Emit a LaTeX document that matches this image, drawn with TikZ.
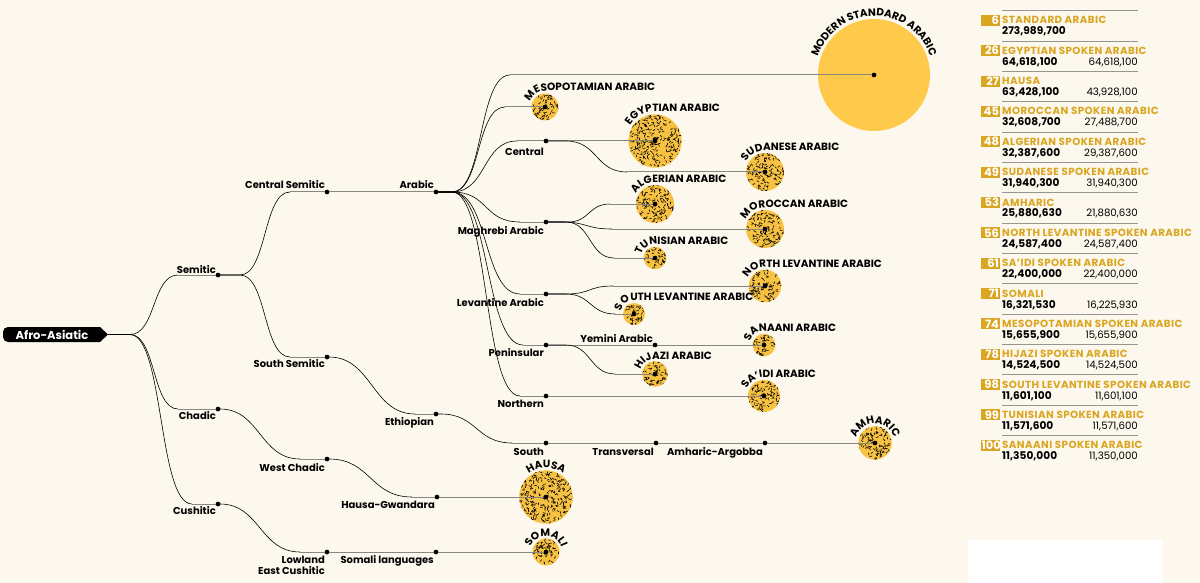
\documentclass[tikz,border=0pt]{standalone}
\usepackage{fontspec}
\setmainfont{Poppins}
\newfontfamily\legtitlefam[LetterSpace=4]{Poppins}
\usetikzlibrary{decorations.text,calc}
\definecolor{bg}{RGB}{253,248,237}
\definecolor{gold}{RGB}{255,201,76}
\definecolor{goldt}{RGB}{247,193,66}
\definecolor{legold}{RGB}{218,165,32}
\definecolor{linegray}{RGB}{135,135,128}
\definecolor{sepgray}{RGB}{150,150,145}
\newcommand\lblfont{\fontsize{10}{12}\selectfont\bfseries}
\newcommand\circfont{\fontsize{10.5}{11}\selectfont\bfseries}
\tikzset{
  dot/.style={circle,fill=black,inner sep=0pt,minimum size=4.5pt},
  lab/.style={font=\lblfont,inner sep=0pt,anchor=base east},
  curve/.style={line width=0.6pt,black},
  hline/.style={line width=1pt,linegray},
  speck/.style={line width=0.6pt,black,line cap=round},
  sepline/.style={line width=0.9pt,sepgray},
  rankbox/.style={fill=legold,text=white,font=\fontsize{11.5}{11}\selectfont\bfseries,minimum height=11pt,inner ysep=0pt,inner xsep=0.8pt,text width=17.4pt,align=right,anchor=east},
  legtitle/.style={text=legold,font=\legtitlefam\fontsize{10.3}{10}\selectfont\bfseries,inner sep=0pt,anchor=base west},
  legnum/.style={font=\fontsize{10.6}{10}\selectfont\bfseries,inner sep=0pt,anchor=base west},
  legnumb/.style={font=\fontsize{10.2}{10}\selectfont,inner sep=0pt,anchor=base east},
}
% textured leaf circle: name, x, y, radius
\newcommand\leafc[4]{%
  \fill[goldt] (#2,#3) circle (#4);
  \begin{scope}
    \clip (#2,#3) circle (#4);
    \pgfmathtruncatemacro\nsp{0.34*#4*#4}
    \foreach \k in {1,...,\nsp}{%
      \pgfmathsetmacro\aa{360*rnd}%
      \pgfmathsetmacro\rr{(#4)*sqrt(rnd)}%
      \pgfmathsetmacro\bb{360*rnd}%
      \draw[speck,shift={(#2,#3)}] (\aa:\rr) -- ++(\bb:2.2);
    }
  \end{scope}
  \node[dot] (#1) at (#2,#3) {};
}
% curved branch: parent, child, out length, end distance before child, control length
\newcommand\brc[5]{%
  \draw[curve] (#1.center) -- ++(#3,0) .. controls +(#5,0) and +(-#5,0) .. ($(#2.center)+(-#4,0)$);
  \draw[hline] ($(#2.center)+(-#4,0)$) -- (#2.center);
}
% arc label starting on the left, then straight: centre node, baseline radius, start angle, text
\newcommand\arclab[4]{%
  \begingroup\circfont
  \pgfmathsetmacro\ind{#2*(200-#3)*pi/180}%
  \path[decorate,decoration={text along path,text={#4},text align={left indent=\ind pt}}]
    ($(#1.center)+(200:#2)$) arc[start angle=200,end angle=90,radius=#2] -- ++(220,0);
  \endgroup
}
% centred arc label
\newcommand\arclabc[3]{%
  \begingroup\circfont
  \path[decorate,decoration={text along path,text={#3},text align=center}]
    ($(#1.center)+(200:#2)$) arc[start angle=200,end angle=-20,radius=#2];
  \endgroup
}
\newcommand\legrow[5]{%
  \pgfmathsetmacro\ly{-(20.3+30.36*#1)}
  \draw[sepline] (1002,\ly+9.7) -- (1138,\ly+9.7);
  \node[rankbox] (rk#1) at (1000,\ly) {#2};
  \node[legtitle] (lt#1) at (1002,\ly-3.6) {#3};
  \node[legnum] (ln#1) at (1002,\ly-14.5) {#4};
  \node[legnumb] (lm#1) at (1138,\ly-14.5) {#5};
}
\begin{document}
\begin{tikzpicture}[x=1pt,y=1pt]
\useasboundingbox (0,0) rectangle (1200,-583);
\fill[bg] (0,0) rectangle (1200,-583);
\fill[white] (968,-540) rectangle (1163,-583);
\pgfmathsetseed{11}

% ---------- leaf circles ----------
\fill[gold] (874,-75) circle (56);
\node[dot] (msa) at (874,-75) {};
\leafc{meso}{545}{-107}{13.5}
\leafc{egypt}{655}{-141}{26.7}
\leafc{sudan}{765}{-172}{19}
\leafc{alger}{655}{-204}{19}
\leafc{moroc}{765}{-229}{19}
\leafc{tunis}{655}{-258}{11.3}
\leafc{nlev}{765}{-286}{16.3}
\leafc{slev}{634}{-314}{11}
\leafc{sanaani}{764}{-345}{11.3}
\leafc{hijazi}{655}{-374}{12.8}
\leafc{saidi}{764}{-396}{16}
\leafc{amharic}{875}{-443}{16.7}
\leafc{hausa}{546}{-497}{26.7}
\leafc{somali}{546}{-552}{13.5}

% ---------- inner nodes ----------
\fill (100,-327) -- (8,-327) arc[start angle=90,end angle=180,radius=5] -- (3,-337)
      arc[start angle=180,end angle=270,radius=5] -- (100,-342) -- (108,-334.5) -- cycle;
\node[text=white,font=\fontsize{11.5}{12}\selectfont\bfseries,inner sep=0pt] (afro) at (52,-334.5) {Afro-Asiatic};
\coordinate (afroend) at (108,-334.5);
\node[dot] (semitic) at (218,-275) {};
\node[dot] (centralsem) at (327,-192) {};
\node[dot] (southsem) at (327,-357) {};
\node[dot] (chadic) at (218,-409) {};
\node[dot] (westchadic) at (327,-459) {};
\node[dot] (cushitic) at (218,-504) {};
\node[dot] (lowland) at (327,-552) {};
\node[dot] (arabic) at (436,-192) {};
\node[dot] (central) at (546,-141) {};
\node[dot] (maghrebi) at (546,-222) {};
\node[dot] (levantine) at (546,-294) {};
\node[dot] (peninsular) at (546,-345) {};
\node[dot] (northern) at (546,-396) {};
\node[dot] (yemini) at (655,-345) {};
\node[dot] (ethiopian) at (436,-414) {};
\node[dot] (south) at (546,-443) {};
\node[dot] (transversal) at (656,-443) {};
\node[dot] (amarg) at (765,-443) {};
\node[dot] (hausagw) at (437,-497) {};
\node[dot] (somlang) at (436,-552) {};

% ---------- connectors ----------
\draw[curve] (afroend) -- ++(22,0);
\brc{afroend}{semitic}{22}{40}{26}
\brc{afroend}{chadic}{22}{40}{26}
\brc{afroend}{cushitic}{22}{26}{34}
\brc{semitic}{centralsem}{22}{37}{27}
\brc{semitic}{southsem}{22}{37}{27}
\brc{chadic}{westchadic}{2}{27}{40}
\brc{cushitic}{lowland}{2}{27}{40}
\brc{southsem}{ethiopian}{2}{21}{43}
\brc{ethiopian}{south}{5}{34}{36}
\brc{westchadic}{hausagw}{2}{25}{42}
\draw[hline] (centralsem) -- (arabic);
\brc{arabic}{msa}{16}{364}{32}
\brc{arabic}{meso}{16}{40}{29}
\brc{arabic}{central}{16}{29}{35}
\brc{arabic}{maghrebi}{16}{26}{37}
\brc{arabic}{levantine}{16}{26}{37}
\brc{arabic}{peninsular}{16}{23}{38}
\brc{arabic}{northern}{16}{26}{37}
\draw[hline] (central) -- (egypt);
\brc{central}{sudan}{20}{138}{32}
\brc{maghrebi}{alger}{22}{45}{22}
\brc{maghrebi}{moroc}{15}{153}{27}
\brc{maghrebi}{tunis}{20}{41}{25}
\brc{levantine}{nlev}{20}{152}{25}
\brc{levantine}{slev}{20}{19}{25}
\draw[hline] (peninsular) -- (yemini);
\draw[hline] (yemini) -- (sanaani);
\brc{peninsular}{hijazi}{20}{40}{25}
\draw[hline] (northern) -- (saidi);
\draw[hline] (south) -- (transversal);
\draw[hline] (transversal) -- (amarg);
\draw[hline] (amarg) -- (amharic);
\draw[hline] (hausagw) -- (hausa);
\draw[hline] (lowland) -- (somlang);
\draw[hline] (somlang) -- (somali);

% redraw dots on top
\foreach \n in {semitic,centralsem,southsem,chadic,westchadic,cushitic,lowland,arabic,central,maghrebi,levantine,peninsular,northern,yemini,ethiopian,south,transversal,amarg,hausagw,somlang,msa,meso,egypt,sudan,alger,moroc,tunis,nlev,slev,sanaani,hijazi,saidi,amharic,hausa,somali}
  \fill (\n.center) circle (2.25);

% ---------- branch labels ----------
\node[lab] (semitic-l) at ($(semitic)+(-2,2)$) {Semitic};
\node[lab] (centralsem-l) at ($(centralsem)+(-2,3)$) {Central Semitic};
\node[lab] (arabic-l) at ($(arabic)+(-2,3)$) {Arabic};
\node[lab] (yemini-l) at ($(yemini)+(-2,3)$) {Yemini Arabic};
\node[lab] (southsem-l) at ($(southsem)+(-2,-10)$) {South Semitic};
\node[lab] (chadic-l) at ($(chadic)+(-2,-10)$) {Chadic};
\node[lab] (westchadic-l) at ($(westchadic)+(-2,-12)$) {West Chadic};
\node[lab] (cushitic-l) at ($(cushitic)+(-2,-10)$) {Cushitic};
\node[lab] (lowland-l) at ($(lowland)+(-2,-11.5)$) {Lowland};
\node[lab] (lowland-l2) at ($(lowland)+(-2,-22)$) {East Cushitic};
\node[lab] (central-l) at ($(central)+(-2,-15)$) {Central};
\node[lab] (maghrebi-l) at ($(maghrebi)+(-2,-12)$) {Maghrebi Arabic};
\node[lab] (levantine-l) at ($(levantine)+(-2,-12)$) {Levantine Arabic};
\node[lab] (peninsular-l) at ($(peninsular)+(-2,-11.5)$) {Peninsular};
\node[lab] (northern-l) at ($(northern)+(-2,-11)$) {Northern};
\node[lab] (ethiopian-l) at ($(ethiopian)+(-2,-11)$) {Ethiopian};
\node[lab] (south-l) at ($(south)+(-2,-12)$) {South};
\node[lab] (transversal-l) at ($(transversal)+(-2,-12)$) {Transversal};
\node[lab] (amarg-l) at ($(amarg)+(-2,-12)$) {Amharic-Argobba};
\node[lab] (hausagw-l) at ($(hausagw)+(-2,-11)$) {Hausa-Gwandara};
\node[lab] (somlang-l) at ($(somlang)+(-2,-11)$) {Somali languages};

% ---------- circle labels ----------
\arclabc{msa}{59}{MODERN STANDARD ARABIC}
\arclab{meso}{16}{160}{MESOPOTAMIAN ARABIC}
\arclab{egypt}{29.5}{148}{EGYPTIAN ARABIC}
\arclab{sudan}{21.5}{152}{SUDANESE ARABIC}
\arclab{alger}{21.5}{152}{ALGERIAN ARABIC}
\arclab{moroc}{21.5}{154}{MOROCCAN ARABIC}
\arclab{tunis}{14}{168}{TUNISIAN ARABIC}
\arclab{nlev}{19}{155}{NORTH LEVANTINE ARABIC}
\arclab{slev}{13.5}{168}{SOUTH LEVANTINE ARABIC}
\arclab{sanaani}{14}{168}{SANAANI ARABIC}
\arclab{hijazi}{15}{165}{HIJAZI ARABIC}
\arclab{saidi}{18.5}{158}{SA’IDI ARABIC}
\arclabc{amharic}{19.5}{AMHARIC}
\arclabc{hausa}{29}{HAUSA}
\arclabc{somali}{16}{SOMALI}

% ---------- legend ----------
\legrow{0}{6}{STANDARD ARABIC}{273,989,700}{}
\legrow{1}{26}{EGYPTIAN SPOKEN ARABIC}{64,618,100}{64,618,100}
\legrow{2}{27}{HAUSA}{63,428,100}{43,928,100}
\legrow{3}{45}{MOROCCAN SPOKEN ARABIC}{32,608,700}{27,488,700}
\legrow{4}{48}{ALGERIAN SPOKEN ARABIC}{32,387,600}{29,387,600}
\legrow{5}{49}{SUDANESE SPOKEN ARABIC}{31,940,300}{31,940,300}
\legrow{6}{53}{AMHARIC}{25,880,630}{21,880,630}
\legrow{7}{56}{NORTH LEVANTINE SPOKEN ARABIC}{24,587,400}{24,587,400}
\legrow{8}{61}{SA’IDI SPOKEN ARABIC}{22,400,000}{22,400,000}
\legrow{9}{71}{SOMALI}{16,321,530}{16,225,930}
\legrow{10}{74}{MESOPOTAMIAN SPOKEN ARABIC}{15,655,900}{15,655,900}
\legrow{11}{78}{HIJAZI SPOKEN ARABIC}{14,524,500}{14,524,500}
\legrow{12}{98}{SOUTH LEVANTINE SPOKEN ARABIC}{11,601,100}{11,601,100}
\legrow{13}{99}{TUNISIAN SPOKEN ARABIC}{11,571,600}{11,571,600}
\legrow{14}{100}{SANAANI SPOKEN ARABIC}{11,350,000}{11,350,000}
\end{tikzpicture}
\end{document}
